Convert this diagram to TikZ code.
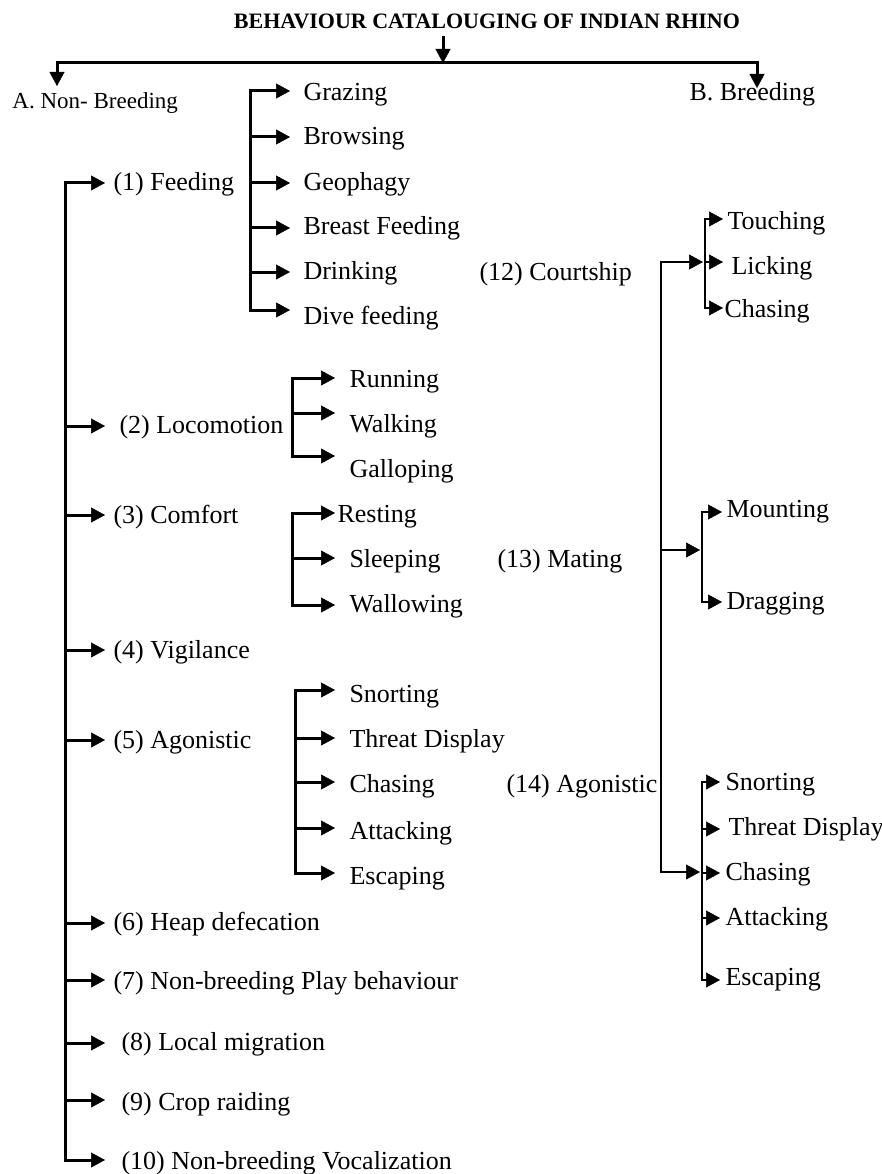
\documentclass[tikz,border=0pt]{standalone}
\usepackage{fontspec}
\setmainfont{Liberation Serif}
\usetikzlibrary{arrows.meta}
\begin{document}
\begin{tikzpicture}[x=1pt,y=-1pt,
  line width=3pt, line cap=rect,
  arr/.style={-{Triangle[length=14pt,width=15pt,line width=0.5pt]}},
  lbl/.style={anchor=mid west, inner sep=0pt, yshift=-5pt, font=\fontsize{26}{30}\selectfont},
  rline/.style={line width=2.5pt},
]
\useasboundingbox (0,0) rectangle (882,1174);

% ---- title and top split
\node[inner sep=0pt, font=\bfseries\fontsize{22}{24}\selectfont] (title) at (487,21) {BEHAVIOUR CATALOUGING OF INDIAN RHINO};
\coordinate (ta) at (443,38);
\coordinate (tb) at (443,63);
\coordinate (hl) at (57,63);
\coordinate (hr) at (757,63);
\coordinate (aA) at (57,86);
\coordinate (aB) at (757,88);
\node[lbl, font=\fontsize{23}{26}\selectfont] (nonb) at (11,101) {A. Non- Breeding};
\node[lbl] (breed) at (688,93) {B. Breeding};
\draw[arr] (ta) -- (tb);
\draw (hl) -- (hr);
\draw[arr] (hl) -- (aA);
\draw[arr] (hr) -- (aB);

% ---- left main categories
\node[lbl] (n1) at (112,183) {(1) Feeding};
\node[lbl] (n2) at (118,426) {(2) Locomotion};
\node[lbl] (n3) at (112,516) {(3) Comfort};
\node[lbl] (n4) at (112,651) {(4) Vigilance};
\node[lbl] (n5) at (112,741) {(5) Agonistic};
\node[lbl] (n6) at (112,923) {(6) Heap defecation};
\node[lbl] (n7) at (112,982) {(7) Non-breeding Play behaviour};
\node[lbl] (n8) at (120,1043) {(8) Local migration};
\node[lbl] (n9) at (120,1103) {(9) Crop raiding};
\node[lbl] (n10) at (120,1162) {(10) Non-breeding Vocalization};

\coordinate (s1) at (65,183);
\coordinate (s2) at (65,426);
\coordinate (s3) at (65,515);
\coordinate (s4) at (65,650);
\coordinate (s5) at (65,740);
\coordinate (s6) at (65,923);
\coordinate (s7) at (65,980);
\coordinate (s8) at (65,1043);
\coordinate (s9) at (65,1100);
\coordinate (s10) at (65,1160);
\draw (s1) -- (s10);
\draw[arr, shorten >=7pt] (s1) -- (s1 -| n1.west);
\draw[arr, shorten >=13pt] (s2) -- (s2 -| n2.west);
\draw[arr, shorten >=7pt] (s3) -- (s3 -| n3.west);
\draw[arr, shorten >=7pt] (s4) -- (s4 -| n4.west);
\draw[arr, shorten >=7pt] (s5) -- (s5 -| n5.west);
\draw[arr, shorten >=7pt] (s6) -- (s6 -| n6.west);
\draw[arr, shorten >=7pt] (s7) -- (s7 -| n7.west);
\draw[arr, shorten >=15pt] (s8) -- (s8 -| n8.west);
\draw[arr, shorten >=15pt] (s9) -- (s9 -| n9.west);
\draw[arr, shorten >=15pt] (s10) -- (s10 -| n10.west);

% ---- feeding
\node[lbl] (fg1) at (302,93) {Grazing};
\node[lbl] (fg2) at (302,137) {Browsing};
\node[lbl] (fg3) at (302,183) {Geophagy};
\node[lbl] (fg4) at (302,227) {Breast Feeding};
\node[lbl] (fg5) at (302,272) {Drinking};
\node[lbl] (fg6) at (302,317) {Dive feeding};
\coordinate (f1) at (250,91);
\coordinate (f2) at (250,137);
\coordinate (f3) at (250,183);
\coordinate (f4) at (250,228);
\coordinate (f5) at (250,272);
\coordinate (f6) at (250,310);
\draw (f1) -- (f6);
\draw[arr, shorten >=12pt] (f1) -- (f1 -| fg1.west);
\draw[arr, shorten >=12pt] (f2) -- (f2 -| fg2.west);
\draw[arr, shorten >=12pt] (f3) -- (f3 -| fg3.west);
\draw[arr, shorten >=12pt] (f4) -- (f4 -| fg4.west);
\draw[arr, shorten >=12pt] (f5) -- (f5 -| fg5.west);
\draw[arr, shorten >=12pt] (f6) -- (f6 -| fg6.west);

% ---- locomotion
\node[lbl] (lo1) at (348,380) {Running};
\node[lbl] (lo2) at (348,425) {Walking};
\node[lbl] (lo3) at (348,470) {Galloping};
\coordinate (l1) at (292,378);
\coordinate (l2) at (292,413);
\coordinate (l3) at (292,456);
\draw (l1) -- (l3);
\draw[arr, shorten >=13pt] (l1) -- (l1 -| lo1.west);
\draw[arr, shorten >=13pt] (l2) -- (l2 -| lo2.west);
\draw[arr, shorten >=13pt] (l3) -- (l3 -| lo3.west);

% ---- comfort
\node[lbl] (co1) at (336,515) {Resting};
\node[lbl] (co2) at (348,560) {Sleeping};
\node[lbl] (co3) at (348,605) {Wallowing};
\coordinate (c1) at (292,513);
\coordinate (c2) at (292,558);
\coordinate (c3) at (292,605);
\draw (c1) -- (c3);
\draw[arr, shorten >=1pt] (c1) -- (c1 -| co1.west);
\draw[arr, shorten >=13pt] (c2) -- (c2 -| co2.west);
\draw[arr, shorten >=13pt] (c3) -- (c3 -| co3.west);

% ---- agonistic (non-breeding)
\node[lbl] (ag1) at (348,695) {Snorting};
\node[lbl] (ag2) at (348,740) {Threat Display};
\node[lbl] (ag3) at (348,785) {Chasing};
\node[lbl] (ag4) at (348,832) {Attacking};
\node[lbl] (ag5) at (348,877) {Escaping};
\coordinate (g1) at (295,690);
\coordinate (g2) at (295,738);
\coordinate (g3) at (295,782);
\coordinate (g4) at (295,828);
\coordinate (g5) at (295,873);
\draw (g1) -- (g5);
\draw[arr, shorten >=13pt] (g1) -- (g1 -| ag1.west);
\draw[arr, shorten >=13pt] (g2) -- (g2 -| ag2.west);
\draw[arr, shorten >=13pt] (g3) -- (g3 -| ag3.west);
\draw[arr, shorten >=13pt] (g4) -- (g4 -| ag4.west);
\draw[arr, shorten >=13pt] (g5) -- (g5 -| ag5.west);

% ---- breeding
\node[lbl] (n12) at (478,273) {(12) Courtship};
\node[lbl] (n13) at (496,560) {(13) Mating};
\node[lbl] (n14) at (505,785) {(14) Agonistic};
\coordinate (r1) at (661,262);
\coordinate (r2) at (661,550);
\coordinate (r3) at (661,872);
\coordinate (rc) at (705,262);
\coordinate (rm) at (702,550);
\coordinate (ra) at (702,872);
\draw[rline] (r1) -- (r3);
\draw[rline, arr, shorten >=2pt] (r1) -- (rc);
\draw[rline, arr, shorten >=2pt] (r2) -- (rm);
\draw[rline, arr, shorten >=2pt] (r3) -- (ra);

% courtship
\node[lbl] (ct1) at (726,222) {Touching};
\node[lbl] (ct2) at (730,267) {Licking};
\node[lbl] (ct3) at (723,310) {Chasing};
\coordinate (k1) at (705,219);
\coordinate (k2) at (705,262);
\coordinate (k3) at (705,308);
\draw[rline] (k1) -- (k3);
\draw[rline, arr, shorten >=3pt] (k1) -- (k1 -| ct1.west);
\draw[rline, arr, shorten >=7pt] (k2) -- (k2 -| ct2.west);
\draw[rline, arr, shorten >=0pt] (k3) -- (k3 -| ct3.west);

% mating
\node[lbl] (mt1) at (725,510) {Mounting};
\node[lbl] (mt2) at (725,602) {Dragging};
\coordinate (m1) at (702,512);
\coordinate (m2) at (702,602);
\draw[rline] (m1) -- (m2);
\draw[rline, arr, shorten >=3pt] (m1) -- (m1 -| mt1.west);
\draw[rline, arr, shorten >=3pt] (m2) -- (m2 -| mt2.west);

% agonistic (breeding)
\node[lbl] (ra1) at (724,783) {Snorting};
\node[lbl] (ra2) at (727,828) {Threat Display};
\node[lbl] (ra3) at (724,873) {Chasing};
\node[lbl] (ra4) at (724,918) {Attacking};
\node[lbl] (ra5) at (724,978) {Escaping};
\coordinate (q1) at (702,782);
\coordinate (q2) at (702,829);
\coordinate (q3) at (702,873);
\coordinate (q4) at (702,918);
\coordinate (q5) at (702,980);
\draw[rline] (q1) -- (q5);
\draw[rline, arr, shorten >=4pt] (q1) -- (q1 -| ra1.west);
\draw[rline, arr, shorten >=7pt] (q2) -- (q2 -| ra2.west);
\draw[rline, arr, shorten >=4pt] (q3) -- (q3 -| ra3.west);
\draw[rline, arr, shorten >=4pt] (q4) -- (q4 -| ra4.west);
\draw[rline, arr, shorten >=4pt] (q5) -- (q5 -| ra5.west);
\end{tikzpicture}
\end{document}
